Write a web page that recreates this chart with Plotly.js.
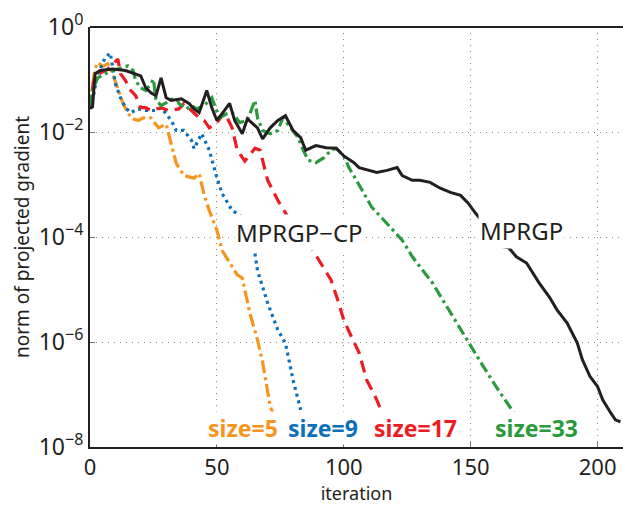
<!DOCTYPE html>
<html>
<head>
<meta charset="utf-8">
<script src="https://cdn.plot.ly/plotly-3.0.1.min.js"></script>
<style>html,body{margin:0;padding:0;background:#fff;}#chart{width:623px;height:507px;}</style>
</head>
<body>
<div id="chart"></div>
<script>
// Data (x = iteration, y = norm of projected gradient)
const mprgpX = [0, 1, 2, 4, 9, 14, 20, 22, 24, 26, 28, 30, 32, 36, 39, 41, 43, 46, 48, 50, 53, 55, 57, 60, 62, 66, 68, 71, 74, 77, 80, 83, 85, 87, 89, 93, 97, 100, 104, 106, 110, 113, 117, 121, 123, 127, 130, 134, 138, 142, 146, 149, 152, 163, 165, 168, 172, 177, 181, 184, 188, 192, 194, 197, 200, 202, 205, 207, 209];
const mprgpY = [2.8e-2, 3.0e-2, 1.29e-1, 1.48e-1, 1.58e-1, 1.48e-1, 1.17e-1, 6.9e-2, 5.6e-2, 4.9e-2, 1.07e-1, 4.5e-2, 4.0e-2, 4.3e-2, 3.5e-2, 2.75e-2, 2.34e-2, 6.2e-2, 2.9e-2, 1.66e-2, 2.57e-2, 3.5e-2, 1.66e-2, 9.3e-3, 1.78e-2, 1.2e-2, 7.4e-3, 1.2e-2, 1.66e-2, 2.04e-2, 1.07e-2, 7.8e-3, 4.5e-3, 5.0e-3, 5.5e-3, 5.0e-3, 4.9e-3, 3.5e-3, 2.6e-3, 2.1e-3, 1.86e-3, 1.7e-3, 1.86e-3, 2.1e-3, 1.48e-3, 1.2e-3, 1.2e-3, 1.1e-3, 8.5e-4, 7.1e-4, 6.2e-4, 4.4e-4, 2.8e-4, 6.5e-5, 6.2e-5, 4.2e-5, 3.2e-5, 1.32e-5, 7.2e-6, 4.1e-6, 2.3e-6, 9.5e-7, 4.6e-7, 2.2e-7, 1.41e-7, 7.9e-8, 4.6e-8, 3.3e-8, 3.0e-8];

const size5X = [0, 1, 2, 3, 5, 7, 9, 11, 13, 15, 17, 19, 21, 24, 27, 30, 32, 34, 37, 39, 41, 43, 45, 47, 50, 52, 55, 58, 60, 63, 66, 68, 71, 72];
const size5Y = [2.8e-2, 7.9e-2, 1.58e-1, 2.1e-1, 1.78e-1, 2.0e-1, 1.26e-1, 6.3e-2, 3.5e-2, 2.24e-2, 1.78e-2, 1.66e-2, 1.86e-2, 1.86e-2, 1.2e-2, 1.41e-2, 6.3e-3, 2.5e-3, 1.48e-3, 1.41e-3, 1.32e-3, 1.62e-3, 6.3e-4, 3.2e-4, 1.35e-4, 5.6e-5, 3.2e-5, 1.9e-5, 1.66e-5, 3.5e-6, 1.1e-6, 4.1e-7, 5.9e-8, 4.5e-8];

const size9X = [0, 1, 3, 6, 8, 10, 12, 14, 16, 19, 22, 26, 28, 32, 34, 37, 40, 41, 44, 47, 50, 52, 56, 59, 64, 66, 70, 74, 77, 80, 83];
const size9Y = [2.8e-2, 4.0e-2, 1.26e-1, 2.6e-1, 3.2e-1, 8.3e-2, 4.5e-2, 2.9e-2, 2.34e-2, 2.75e-2, 2.57e-2, 2.57e-2, 2.9e-2, 1.66e-2, 1.07e-2, 1.07e-2, 6.9e-3, 4.8e-3, 9.3e-3, 4.5e-3, 1.35e-3, 6.8e-4, 3.2e-4, 2.6e-4, 1.0e-4, 2.3e-5, 5.5e-6, 1.7e-6, 9.5e-7, 1.9e-7, 5.1e-8];

const size17X = [0, 1, 2, 7, 11, 12, 14, 16, 18, 20, 22, 24, 28, 31, 35, 37, 40, 43, 45, 47, 50, 53, 56, 58, 61, 65, 67, 70, 74, 78, 87, 91, 95, 98, 100, 103, 106, 109, 113, 115];
const size17Y = [2.8e-2, 6.9e-2, 1.17e-1, 1.58e-1, 2.45e-1, 1.29e-1, 9.5e-2, 6.2e-2, 4.9e-2, 2.9e-2, 2.9e-2, 2.57e-2, 2.9e-2, 2.57e-2, 2.75e-2, 3.5e-2, 2.57e-2, 1.86e-2, 1.66e-2, 1.2e-2, 1.51e-2, 2.34e-2, 1.2e-2, 4.5e-3, 2.8e-3, 4.9e-3, 4.5e-3, 1.2e-3, 5.0e-4, 2.4e-4, 6.5e-5, 3.2e-5, 1.51e-5, 5.5e-6, 2.6e-6, 1.26e-6, 6.3e-7, 1.9e-7, 7.9e-8, 4.6e-8];

const size33X = [0, 1, 3, 6, 9, 12, 15, 17, 18, 20, 22, 24, 25, 26, 28, 30, 31, 34, 35, 38, 40, 42, 45, 48, 50, 51, 54, 56, 59, 62, 65, 66, 68, 71, 74, 76, 79, 82, 84, 86, 89, 92, 95, 97, 100, 102, 105, 108, 111, 115, 120, 123, 127, 131, 135, 139, 143, 147, 150, 155, 160, 164, 168];
const size33Y = [3.2e-2, 6.2e-2, 1.07e-1, 1.29e-1, 1.48e-1, 1.66e-1, 1.82e-1, 1.48e-1, 9.5e-2, 6.9e-2, 6.2e-2, 8.3e-2, 1.02e-1, 4.0e-2, 3.2e-2, 3.6e-2, 4.0e-2, 4.5e-2, 3.5e-2, 2.75e-2, 3.2e-2, 2.75e-2, 3.2e-2, 4.5e-2, 2.57e-2, 1.86e-2, 2.24e-2, 2.34e-2, 1.51e-2, 1.66e-2, 4.0e-2, 1.86e-2, 1.07e-2, 9.3e-3, 1.07e-2, 1.86e-2, 1.2e-2, 7.8e-3, 4.5e-3, 2.9e-3, 2.6e-3, 3.2e-3, 4.5e-3, 4.9e-3, 3.5e-3, 2.1e-3, 1.2e-3, 6.8e-4, 3.7e-4, 2.3e-4, 1.23e-4, 8.7e-5, 4.2e-5, 2.3e-5, 1.32e-5, 6.3e-6, 3.0e-6, 1.48e-6, 8.1e-7, 3.4e-7, 1.41e-7, 7.1e-8, 3.8e-8];

const yTickVals = [1e-8, 1e-6, 1e-4, 1e-2, 1];
const yTickText = ['10<sup>\u22128</sup>', '10<sup>\u22126</sup>', '10<sup>\u22124</sup>', '10<sup>\u22122</sup>', '10<sup>0</sup>'];
const xTickVals = [0, 50, 100, 150, 200];

const labelNames = ['MPRGP\u2212CP', 'MPRGP', 'size=5', 'size=9', 'size=17', 'size=33'];

const cBlack = '#231f20', cOrange = '#f7941d', cBlue = '#0b6fba', cRed = '#ed1c24', cGreen = '#2b9a3c';

const traces = [
  {x: size5X, y: size5Y, mode: 'lines', name: 'size=5', line: {color: cOrange, width: 3.2, dash: '13px,4px,3px,4px'}},
  {x: size9X, y: size9Y, mode: 'lines', name: 'size=9', line: {color: cBlue, width: 3.2, dash: '3px,4px'}},
  {x: size17X, y: size17Y, mode: 'lines', name: 'size=17', line: {color: cRed, width: 3.2, dash: '12px,7px'}},
  {x: size33X, y: size33Y, mode: 'lines', name: 'size=33', line: {color: cGreen, width: 3.2, dash: '11px,4px,3px,4px'}},
  {x: mprgpX, y: mprgpY, mode: 'lines', name: 'MPRGP', line: {color: cBlack, width: 3}}
];

const font = 'Noto Sans, Open Sans, sans-serif';
const layout = {
  width: 623, height: 507,
  margin: {l: 90, r: 0, t: 27, b: 60},
  paper_bgcolor: '#ffffff', plot_bgcolor: '#ffffff',
  showlegend: false,
  font: {family: font, color: cBlack},
  xaxis: {
    range: [0, 210], tickvals: xTickVals, ticks: 'inside', ticklen: 5, tickcolor: '#777',
    showgrid: true, gridcolor: '#888', griddash: '1px,5px', gridwidth: 1,
    showline: true, linecolor: cBlack, linewidth: 2, zeroline: false,
    tickfont: {size: 22, color: cBlack, family: font},
    ticklabelstandoff: 0,
    title: {text: 'iteration', font: {size: 18, color: cBlack, family: font}, standoff: 7}
  },
  yaxis: {
    type: 'log', range: [-8, 0], tickvals: yTickVals, ticktext: yTickText,
    ticks: 'inside', ticklen: 5, tickcolor: '#777',
    showgrid: true, gridcolor: '#888', griddash: '1px,5px', gridwidth: 1,
    showline: true, linecolor: cBlack, linewidth: 2, zeroline: false,
    tickfont: {size: 23, color: cBlack, family: font},
    ticklabelstandoff: 0,
    title: {text: 'norm of projected gradient', font: {size: 19, color: cBlack, family: font}, standoff: 4}
  },
  shapes: [
    {type: 'line', xref: 'paper', yref: 'paper', x0: 0, x1: 1, y0: 1, y1: 1, line: {color: cBlack, width: 2}}
  ],
  annotations: [
    {x: 82.7, y: -3.92, xref: 'x', yref: 'y', text: labelNames[0], showarrow: false, font: {size: 24, color: cBlack, family: font}, bgcolor: '#ffffff', borderpad: 1},
    {x: 170.2, y: -3.88, xref: 'x', yref: 'y', text: labelNames[1], showarrow: false, font: {size: 24, color: cBlack, family: font}, bgcolor: '#ffffff', borderpad: 1},
    {x: 60.2, y: -7.64, xref: 'x', yref: 'y', text: '<b>' + labelNames[2] + '</b>', showarrow: false, font: {size: 23, color: cOrange, family: font}, bgcolor: '#ffffff', borderpad: 0},
    {x: 91.7, y: -7.64, xref: 'x', yref: 'y', text: '<b>' + labelNames[3] + '</b>', showarrow: false, font: {size: 23, color: cBlue, family: font}, bgcolor: '#ffffff', borderpad: 0},
    {x: 128.3, y: -7.64, xref: 'x', yref: 'y', text: '<b>' + labelNames[4] + '</b>', showarrow: false, font: {size: 23, color: cRed, family: font}, bgcolor: '#ffffff', borderpad: 0},
    {x: 176.0, y: -7.64, xref: 'x', yref: 'y', text: '<b>' + labelNames[5] + '</b>', showarrow: false, font: {size: 23, color: cGreen, family: font}, bgcolor: '#ffffff', borderpad: 0}
  ]
};

Plotly.newPlot('chart', traces, layout, {staticPlot: true, displayModeBar: false});
</script>
</body>
</html>
